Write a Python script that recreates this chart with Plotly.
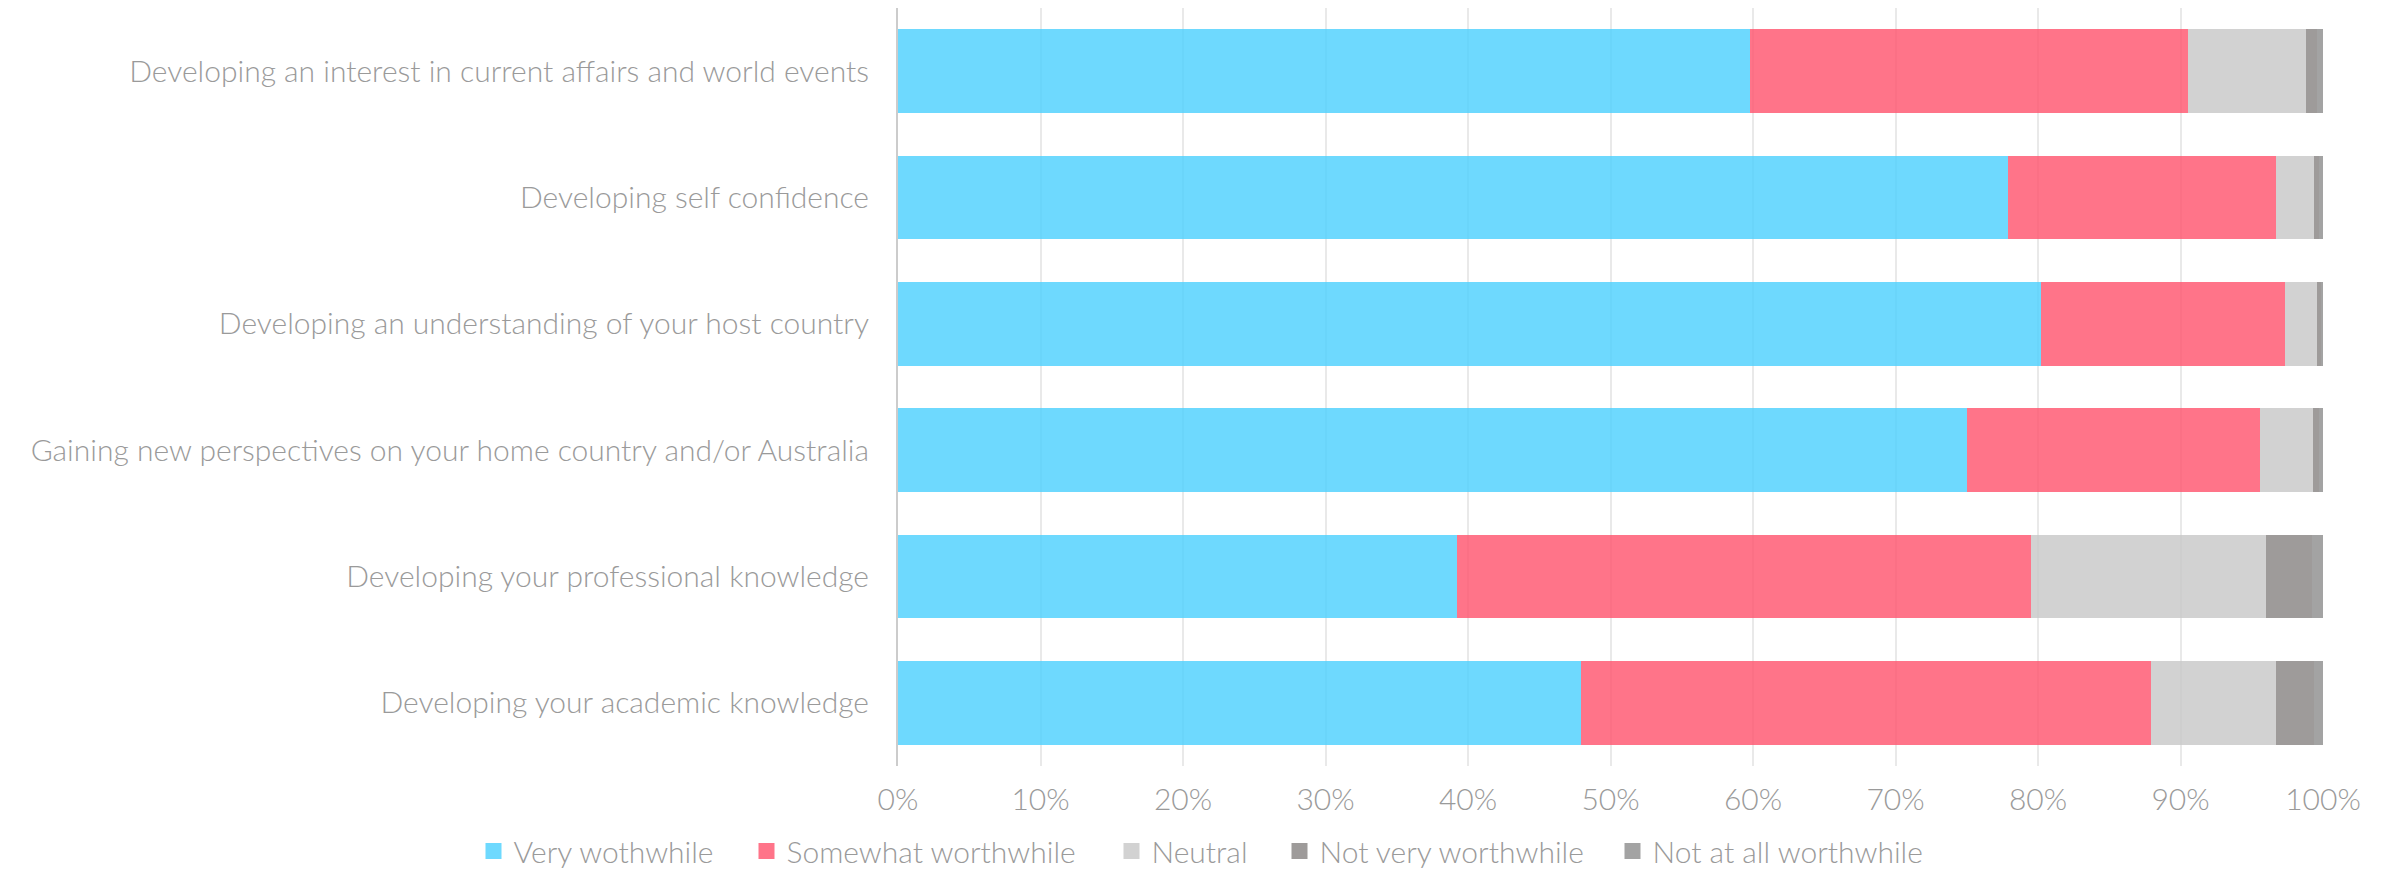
import plotly.graph_objects as go

categories = [
    "Developing an interest in current affairs and world events",
    "Developing self confidence",
    "Developing an understanding of your host country",
    "Gaining new perspectives on your home country and/or Australia",
    "Developing your professional knowledge",
    "Developing your academic knowledge",
]

series_names = ["Very wothwhile", "Somewhat worthwhile", "Neutral",
                "Not very worthwhile", "Not at all worthwhile"]

very = [59.8, 77.9, 80.2, 75.0, 39.2, 47.9]
somewhat = [30.75, 18.8, 17.1, 20.6, 40.3, 40.0]
neutral = [8.25, 2.65, 2.3, 3.7, 16.5, 8.8]
not_very = [0.8, 0.4, 0.25, 0.4, 3.2, 2.7]
not_at_all = [0.4, 0.25, 0.15, 0.3, 0.8, 0.6]

values = [very, somewhat, neutral, not_very, not_at_all]

x_ticks = [0, 10, 20, 30, 40, 50, 60, 70, 80, 90, 100]
x_tick_labels = [f"{t}%" for t in x_ticks]

fill_colors = ["rgba(74,207,254,0.8)", "rgba(255,81,107,0.8)",
               "rgba(199,199,199,0.8)", "rgba(134,130,129,0.8)",
               "rgba(140,140,140,0.8)"]
legend_colors = ["#6ED9FE", "#FF7489", "#D2D2D2", "#9E9B9A", "#A3A3A3"]

# left edges (px) of the legend swatches
legend_swatch_left = [485, 758, 1123, 1291, 1624]

FONT = "Helvetica Neue, Lato, Roboto, Liberation Sans, sans-serif"
TXT = "#9a9a9a"
FS = 30
W, H = 2381, 865

fig = go.Figure()
for name, vals, col in zip(series_names, values, fill_colors):
    fig.add_trace(go.Bar(
        y=categories, x=vals, name=name, orientation="h",
        marker=dict(color=col, line=dict(width=0)),
        showlegend=False,
    ))

legend_layouts = {}
for i, (name, col, left) in enumerate(zip(series_names, legend_colors, legend_swatch_left)):
    key = "legend" if i == 0 else f"legend{i + 1}"
    fig.add_trace(go.Scatter(
        x=[None], y=[None], mode="markers", name=name, legend=key,
        marker=dict(symbol="square", size=17, color=col),
    ))
    legend_layouts[key] = dict(
        orientation="h", xref="container", yref="container",
        x=(left + 8.5 - 8 - 20) / W, xanchor="left",
        y=0.0254, yanchor="middle", bgcolor="rgba(0,0,0,0)",
        font=dict(family=FONT, size=FS, color=TXT, weight=300),
    )

fig.update_layout(
    width=W, height=H,
    barmode="stack", bargap=0.336,
    paper_bgcolor="white", plot_bgcolor="white",
    margin=dict(l=890, r=66, t=0, b=107),
    font=dict(family=FONT, color=TXT, size=FS, weight=300),
    showlegend=True,
    xaxis=dict(range=[0, 100], tickvals=x_ticks, ticktext=x_tick_labels,
               showgrid=True, gridcolor="#e9e9e9", gridwidth=2,
               zeroline=False, showline=False, ticks="",
               ticklabelstandoff=13,
               tickfont=dict(family=FONT, size=FS, color=TXT, weight=300)),
    yaxis=dict(autorange="reversed", showgrid=False, zeroline=False,
               showline=True, linecolor="#cccccc", linewidth=2,
               ticks="", ticklabelstandoff=21,
               tickfont=dict(family=FONT, size=FS, color=TXT, weight=300)),
    **legend_layouts,
)

fig.write_html("out.html")
